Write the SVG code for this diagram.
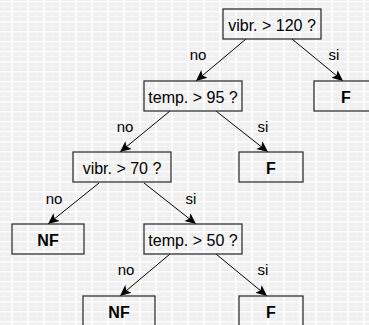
<svg xmlns="http://www.w3.org/2000/svg" width="369" height="325" viewBox="0 0 369 325">
<defs>
<pattern id="grid" x="0" y="0" width="16" height="10" patternUnits="userSpaceOnUse">
<rect width="16" height="10" fill="#ebebeb"/>
<rect x="0" y="0" width="16" height="10" fill="#f1f1f1" opacity="0.6"/>
<rect x="11" y="0" width="2" height="10" fill="#ffffff" opacity="0.85"/>
<rect x="0" y="1" width="16" height="1.5" fill="#ffffff" opacity="0.85"/>
<rect x="4" y="0" width="1" height="10" fill="#f6f6f6"/>
<rect x="0" y="6" width="16" height="1" fill="#f6f6f6"/>
</pattern>
<marker id="arr" viewBox="0 0 11 11" refX="11" refY="5.5" markerWidth="11" markerHeight="11" markerUnits="userSpaceOnUse" orient="auto">
<path d="M0,0.5 L11,5.5 L0,10.5 L2.5,5.5 Z" fill="#000"/>
</marker>
<style>
.box{fill:none;stroke:#333;stroke-width:1.3}
.t{font-family:"Liberation Sans",Arial,sans-serif;font-size:16px;fill:#000;text-anchor:middle}
.b{font-weight:bold}
.l{font-family:"Liberation Sans",Arial,sans-serif;font-size:15px;fill:#000;text-anchor:middle}
.e{stroke:#000;stroke-width:1;fill:none;marker-end:url(#arr)}
</style>
</defs>
<rect width="369" height="325" fill="url(#grid)"/>
<g id="connectors">
<line class="e" x1="246" y1="39" x2="196" y2="81"/>
<line class="e" x1="292" y1="39" x2="343" y2="81"/>
<line class="e" x1="170" y1="111" x2="120" y2="152"/>
<line class="e" x1="216" y1="111" x2="268" y2="152"/>
<line class="e" x1="99" y1="183" x2="48" y2="224"/>
<line class="e" x1="144" y1="183" x2="196" y2="224"/>
<line class="e" x1="170" y1="254" x2="120" y2="296"/>
<line class="e" x1="216" y1="254" x2="267" y2="296"/>
<text class="l" x="198" y="60">no</text>
<text class="l" x="334" y="60">si</text>
<text class="l" x="125" y="132">no</text>
<text class="l" x="263" y="132">si</text>
<text class="l" x="54" y="204">no</text>
<text class="l" x="191" y="204">si</text>
<text class="l" x="126" y="275">no</text>
<text class="l" x="263" y="275">si</text>
</g>
<g id="n1"><rect class="box" x="223" y="9" width="98" height="30"/><text class="t" x="272" y="30.5">vibr. &gt; 120 ?</text></g>
<g id="n2"><rect class="box" x="314" y="81" width="64" height="30"/><text class="t b" x="346" y="102.5">F</text></g>
<g id="n3"><rect class="box" x="144" y="81" width="98" height="30"/><text class="t" x="193" y="102.5">temp. &gt; 95 ?</text></g>
<g id="n4"><rect class="box" x="239" y="152" width="64" height="30"/><text class="t b" x="271" y="173.5">F</text></g>
<g id="n5"><rect class="box" x="73" y="152" width="98" height="30"/><text class="t" x="122" y="174">vibr. &gt; 70 ?</text></g>
<g id="n6"><rect class="box" x="12" y="224" width="72" height="30"/><text class="t b" x="48" y="245.5">NF</text></g>
<g id="n7"><rect class="box" x="144" y="224" width="98" height="30"/><text class="t" x="193" y="245.5">temp. &gt; 50 ?</text></g>
<g id="n8"><rect class="box" x="83" y="296" width="72" height="30"/><text class="t b" x="119" y="317.5">NF</text></g>
<g id="n9"><rect class="box" x="239" y="296" width="64" height="30"/><text class="t b" x="271" y="317.5">F</text></g>
</svg>
